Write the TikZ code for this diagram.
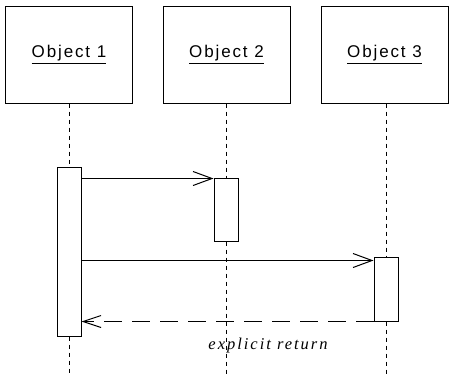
\documentclass[tikz,border=0pt]{standalone}
\usepackage{fontspec}
\setmainfont{Liberation Serif}
\newfontfamily\objfont[LetterSpace=11]{Liberation Sans}
\newfontfamily\lblfont[LetterSpace=12]{Liberation Serif}
\usetikzlibrary{arrows.meta}
\begin{document}
\begin{tikzpicture}[x=1pt,y=-1pt,
  objbox/.style={draw,line width=1pt,minimum width=127pt,minimum height=97pt,inner sep=0pt,font=\objfont\fontsize{17}{19}\selectfont},
  actbox/.style={draw,fill=white,line width=1pt,minimum width=24pt,inner sep=0pt},
  life/.style={line width=1pt,dash pattern=on 4pt off 4pt},
  msg/.style={line width=1pt,-{Straight Barb[length=19pt,width=14pt]}},
  ret/.style={line width=1pt,dash pattern=on 18pt off 10pt,-{Straight Barb[length=18pt,width=12pt]}}]
\useasboundingbox (0,0) rectangle (449,376);
\node[objbox] (o1) at (69,54.5) {\underline{Object 1}};
\node[objbox] (o2) at (226.5,54.5) {\underline{Object 2}};
\node[objbox] (o3) at (384.5,54.5) {\underline{Object 3}};
\node[actbox,minimum height=169pt] (a1) at (69,251.5) {};
\node[actbox,minimum height=63pt] (a2) at (226,209.5) {};
\node[actbox,minimum height=64pt] (a3) at (386,289) {};
\coordinate (e1) at (69,376);
\coordinate (e2) at (226,376);
\coordinate (e3) at (386,376);
\draw[life] (a1 |- o1.south) -- (a1.north);
\draw[life] (a1.south) -- (e1);
\draw[life] (a2 |- o2.south) -- (a2.north);
\draw[life] (a2.south) -- (e2);
\draw[life] (a3 |- o3.south) -- (a3.north);
\draw[life] (a3.south) -- (e3);
\draw[msg] ([yshift=-1pt]a1.east |- a2.north) -- ([yshift=-1pt]a2.north west);
\draw[msg] ([yshift=-4pt]a1.east |- a3.north) -- ([yshift=-4pt]a3.north west);
\draw[ret] (a3.south west) -- (a1.east |- a3.south west);
\node[font=\lblfont\itshape\fontsize{16.5}{18}\selectfont] (lbl) at (268,346) {explicit return};
\end{tikzpicture}
\end{document}
